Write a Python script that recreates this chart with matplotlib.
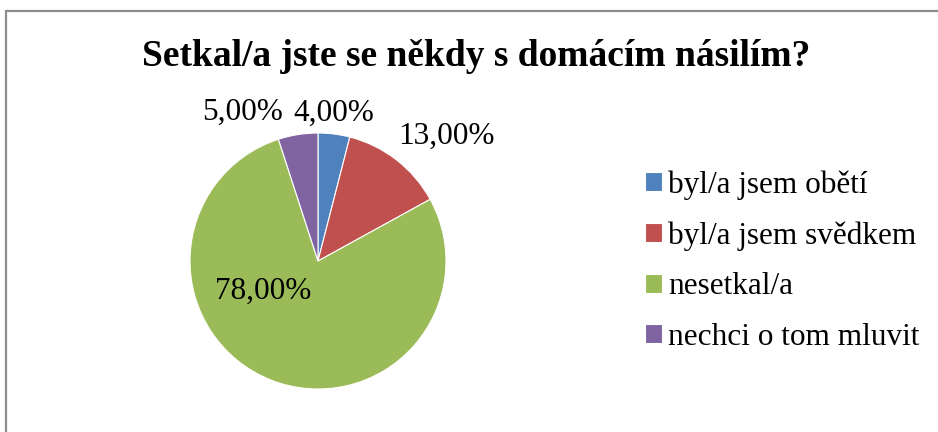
import numpy as np
import matplotlib
matplotlib.use("Agg")
import matplotlib.pyplot as plt
from matplotlib.patches import Rectangle

# data
categories = ["byl/a jsem obětí", "byl/a jsem svědkem", "nesetkal/a", "nechci o tom mluvit"]
values = [4.0, 13.0, 78.0, 5.0]
colors = ["#4F81BD", "#C0504D", "#9BBB59", "#8064A2"]
title = "Setkal/a jste se někdy s domácím násilím?"

# label placement (radius factor, angle nudge in degrees)
lab_r = [1.16, 1.40, 0.49, 1.30]
lab_da = [1.0, -8.0, -40.0, 18.0]

plt.rcParams["font.family"] = ["Liberation Serif", "DejaVu Serif"]

W, H = 938, 432
fig = plt.figure(figsize=(W / 100, H / 100), dpi=100)

# outer chart frame
fig.patches.append(Rectangle((6 / W, -0.05), 1.2, 1 - 11 / H + 0.05,
                             transform=fig.transFigure, fill=False,
                             edgecolor="#8c8c8c", linewidth=1.6))

cx, cy, R = 318, 261, 128   # pixel centre (from top) and radius
ax = fig.add_axes([(cx - R) / W, (H - cy - R) / H, 2 * R / W, 2 * R / H])
ax.set_axis_off()
wedges, _ = ax.pie(values, colors=colors, startangle=90, counterclock=False,
                   radius=1, wedgeprops=dict(edgecolor="white", linewidth=0.8))
ax.set_xlim(-1, 1)
ax.set_ylim(-1, 1)
ax.set_aspect("equal")

total = sum(values)
start = 90.0
for i, v in enumerate(values):
    ang = start - v / total * 360 / 2 + lab_da[i]
    start -= v / total * 360
    x = lab_r[i] * np.cos(np.radians(ang))
    y = lab_r[i] * np.sin(np.radians(ang))
    ax.text(x, y, f"{v:.2f}%".replace(".", ","), ha="center", va="center",
            fontsize=22.5, color="black", clip_on=False)

fig.text(476 / W, 1 - 56 / H, title, ha="center", va="center",
         fontsize=27, fontweight="bold")

leg = fig.legend(wedges, categories, loc="center left",
                 bbox_to_anchor=(645 / W, 1 - 261 / H), frameon=False,
                 fontsize=22.5, handlelength=0.54, handleheight=0.54,
                 handletextpad=0.2, labelspacing=0.69,
                 borderpad=0, borderaxespad=0)

fig.savefig("out.png", dpi=100)
